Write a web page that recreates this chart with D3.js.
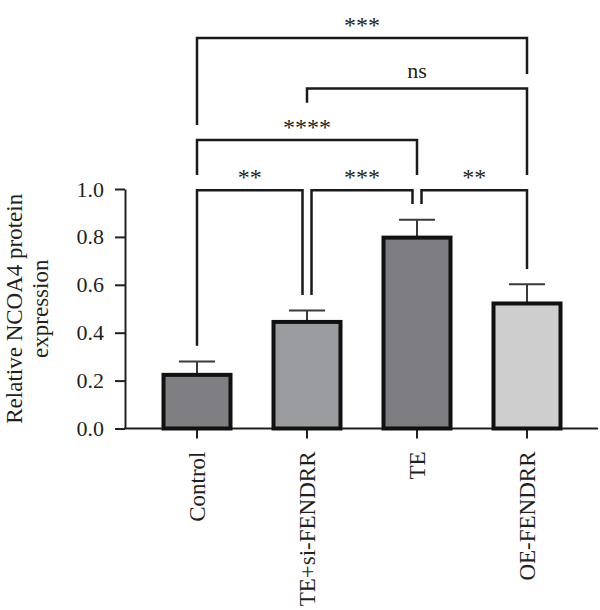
<!DOCTYPE html>
<html>
<head>
<meta charset="utf-8">
<script src="https://cdn.jsdelivr.net/npm/d3@7"></script>
<style>
  body { margin: 0; background: #fff; }
  svg text { font-family: "Liberation Serif", "Times New Roman", serif; fill: #231f20; }
</style>
</head>
<body>
<svg id="chart" width="600" height="610"></svg>
<script>
// groups, means and upper error (SEM)
const groups = ["Control", "TE+si-FENDRR", "TE", "OE-FENDRR"];
const means = [0.224, 0.445, 0.797, 0.522];
const errors = [0.056, 0.048, 0.075, 0.080];
const fills = ["#7f7f83", "#9b9ca0", "#7d7d81", "#cececf"];
const yTicks = [0.0, 0.2, 0.4, 0.6, 0.8, 1.0];

// significance brackets: level and leg ends in y units
const compA = ["Control", "TE+si-FENDRR", "TE", "Control", "TE+si-FENDRR", "Control"];
const compB = ["TE+si-FENDRR", "TE", "OE-FENDRR", "TE", "OE-FENDRR", "OE-FENDRR"];
const compLevel = [0.995, 0.995, 0.995, 1.205, 1.42, 1.63];
const compDropA = [0.345, 0.557, 0.937, 1.058, 1.36, 1.267];
const compDropB = [0.557, 0.937, 0.666, 1.058, 1.058, 1.48];
const compLabel = ["**", "***", "**", "****", "ns", "***"];

const svg = d3.select("#chart");

let y = d3.scaleLinear().domain([0, 1]).range([428.5, 189]);
let x = d3.scaleBand().domain(groups).range([142, 582])
  .paddingInner(43 / 110).paddingOuter(43 / 220);
let cx = (g) => x(g) + x.bandwidth() / 2;

// y axis
let yAxis = svg.append("g")
  .attr("transform", "translate(125,0)")
  .call(d3.axisLeft(y).tickValues(yTicks).tickFormat(d3.format(".1f"))
    .tickSize(10).tickSizeOuter(0).tickPadding(11));
yAxis.selectAll("path, line").attr("stroke", "#231f20").attr("stroke-width", 2);
yAxis.selectAll("text").attr("font-size", 22).attr("font-family", null);

// x axis
let xAxis = svg.append("g")
  .attr("transform", `translate(0,${y(0)})`)
  .call(d3.axisBottom(x).tickSize(10).tickSizeOuter(0).tickFormat(""));
xAxis.select(".domain").remove();
xAxis.selectAll("line").attr("stroke", "#231f20").attr("stroke-width", 2);
xAxis.append("line")
  .attr("x1", 124).attr("x2", 598)
  .attr("stroke", "#231f20").attr("stroke-width", 2);

svg.append("g").selectAll("text").data(groups).join("text")
  .attr("transform", (d) => `translate(${cx(d)},${y(0) + 23}) rotate(-90)`)
  .attr("dy", "0.34em")
  .attr("text-anchor", "end")
  .attr("font-size", 23)
  .text((d) => d);

// y axis title
let title = svg.append("text")
  .attr("transform", `translate(22,${(y(0) + y(1)) / 2}) rotate(-90)`)
  .attr("text-anchor", "middle")
  .attr("font-size", 23);
title.append("tspan").attr("x", 0).attr("dy", 0).text("Relative NCOA4 protein");
title.append("tspan").attr("x", 0).attr("dy", 26).text("expression");

// error bars (upper only)
let eb = svg.append("g").attr("stroke", "#3a3a3a").attr("stroke-width", 2);
groups.forEach((g, i) => {
  let top = y(means[i] + errors[i]);
  eb.append("line").attr("x1", cx(g)).attr("x2", cx(g))
    .attr("y1", y(means[i])).attr("y2", top);
  eb.append("line").attr("x1", cx(g) - 18).attr("x2", cx(g) + 18)
    .attr("y1", top).attr("y2", top);
});

// bars
svg.append("g").selectAll("rect").data(groups).join("rect")
  .attr("x", (d) => x(d))
  .attr("width", x.bandwidth())
  .attr("y", (d, i) => y(means[i]))
  .attr("height", (d, i) => y(0) - y(means[i]))
  .attr("fill", (d, i) => fills[i])
  .attr("stroke", "#111")
  .attr("stroke-width", 4);

// brackets
let br = svg.append("g");
compA.forEach((a, i) => {
  let b = compB[i];
  // shift a leg when another bracket at the same level uses that bar
  let shared = (g, self) => compLevel.some((lv, j) => j !== self && lv === compLevel[self] &&
    (compA[j] === g || compB[j] === g));
  let xa = cx(a) + (shared(a, i) ? 4.5 : 0);
  let xb = cx(b) - (shared(b, i) ? 4.5 : 0);
  let yl = y(compLevel[i]);
  br.append("path")
    .attr("d", `M${xa},${y(compDropA[i])}V${yl}H${xb}V${y(compDropB[i])}`)
    .attr("fill", "none")
    .attr("stroke", "#1a1a1a")
    .attr("stroke-width", 2.5);
  let isNs = compLabel[i] === "ns";
  br.append("text")
    .attr("x", (xa + xb) / 2)
    .attr("y", yl - (isNs ? 10 : 5))
    .attr("text-anchor", "middle")
    .attr("font-size", isNs ? 22 : 24)
    .text(compLabel[i]);
});
</script>
</body>
</html>
